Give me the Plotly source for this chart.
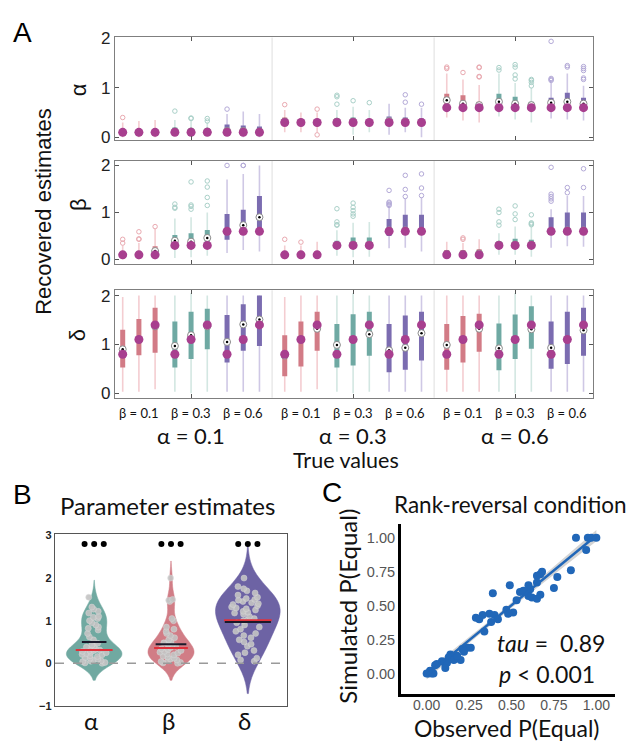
import plotly.graph_objects as go
import numpy as np

W, H = 633, 744
def px(x): return x / W
def py(y): return 1 - y / H

# ================= Panel A data =================
alpha_groups = ["α = 0.1", "α = 0.3", "α = 0.6"]
beta_labels = ["β = 0.1", "β = 0.3", "β = 0.6"]
true_alpha = [0.1, 0.3, 0.6]
true_beta = [0.1, 0.3, 0.6]
true_delta = [0.8, 1.1, 1.4]
row_labels = ["α", "β", "δ"]

# order: alpha group -> beta level -> delta level (27 conditions)
alpha_lo = [0.0, 0.0, 0.0, 0.02, 0.02, 0.02, 0.02, 0.0, 0.0,
            0.1, 0.1, 0.1, 0.2, 0.05, 0.1, 0.05, 0.1, 0.0,
            0.4, 0.34, 0.3, 0.42, 0.36, 0.3, 0.38, 0.36, 0.34]
alpha_q1 = [0.08, 0.08, 0.08, 0.1, 0.1, 0.1, 0.1, 0.1, 0.08,
            0.28, 0.28, 0.26, 0.28, 0.28, 0.28, 0.28, 0.28, 0.25,
            0.65, 0.62, 0.6, 0.65, 0.62, 0.6, 0.62, 0.65, 0.6]
alpha_med = [0.1, 0.1, 0.1, 0.12, 0.12, 0.12, 0.13, 0.13, 0.12,
             0.32, 0.3, 0.3, 0.32, 0.32, 0.3, 0.33, 0.32, 0.3,
             0.75, 0.68, 0.65, 0.72, 0.68, 0.65, 0.7, 0.72, 0.68]
alpha_q3 = [0.16, 0.14, 0.14, 0.2, 0.17, 0.16, 0.26, 0.24, 0.22,
            0.4, 0.36, 0.35, 0.38, 0.4, 0.35, 0.42, 0.4, 0.38,
            0.88, 0.85, 0.72, 0.88, 0.82, 0.72, 0.8, 0.9, 0.8]
alpha_hi = [0.3, 0.33, 0.35, 0.35, 0.33, 0.3, 0.47, 0.52, 0.47,
            0.55, 0.5, 0.5, 0.55, 0.62, 0.55, 0.68, 0.6, 0.6,
            1.29, 1.17, 1.06, 1.29, 1.1, 1.0, 1.1, 1.29, 1.04]
alpha_out = [[0.4], [], [], [0.53], [0.38, 0.39], [0.33, 0.38], [0.57], [], [],
             [0.66], [], [0.57, 0.05], [0.85, 0.82, 0.67], [0.74], [0.7], [], [0.86, 0.71], [0.67],
             [1.42, 1.39], [1.31], [1.42, 1.41, 1.23, 1.22], [1.41, 1.36], [1.47, 1.42, 1.26, 1.18],
             [1.17, 1.15, 1.11, 1.04], [1.94, 1.19, 1.17, 1.15], [1.45, 1.42], [1.43, 1.39, 1.35, 1.2, 1.17]]

beta_lo = [0.0, 0.0, 0.0, 0.03, 0.05, 0.08, 0.14, 0.2, 0.17,
           0.0, 0.0, 0.03, 0.08, 0.05, 0.06, 0.24, 0.25, 0.17,
           0.03, 0.03, 0.03, 0.1, 0.1, 0.06, 0.25, 0.28, 0.27]
beta_q1 = [0.08, 0.08, 0.1, 0.33, 0.3, 0.33, 0.42, 0.54, 0.59,
           0.08, 0.08, 0.08, 0.28, 0.28, 0.28, 0.5, 0.55, 0.52,
           0.1, 0.1, 0.1, 0.28, 0.28, 0.28, 0.52, 0.58, 0.55]
beta_med = [0.1, 0.1, 0.18, 0.4, 0.38, 0.46, 0.6, 0.73, 0.9,
            0.1, 0.1, 0.1, 0.3, 0.32, 0.32, 0.62, 0.62, 0.6,
            0.12, 0.12, 0.13, 0.32, 0.32, 0.32, 0.6, 0.62, 0.62]
beta_q3 = [0.17, 0.17, 0.28, 0.52, 0.56, 0.63, 0.97, 1.06, 1.35,
           0.15, 0.15, 0.18, 0.4, 0.47, 0.47, 0.86, 0.95, 0.95,
           0.2, 0.2, 0.22, 0.38, 0.44, 0.42, 0.9, 1.0, 1.0]
beta_hi = [0.3, 0.35, 0.65, 0.87, 0.9, 1.0, 1.7, 1.82, 2.0,
           0.3, 0.3, 0.38, 0.62, 0.78, 0.8, 1.14, 1.29, 1.32,
           0.38, 0.35, 0.43, 0.56, 0.7, 0.7, 1.07, 1.35, 1.35]
beta_out = [[0.43, 0.35], [0.59, 0.44, 0.43], [0.7], [1.18, 1.11, 1.09], [1.65, 1.16, 1.13, 1.07],
            [1.67, 1.54, 1.32, 1.15], [2.0], [2.0, 2.0], [],
            [0.43], [0.37], [], [1.08, 0.8, 0.74, 0.73], [1.2, 1.11, 1.04, 0.97, 0.92], [],
            [1.47, 1.22, 1.2, 1.17, 1.15], [1.79, 1.49, 1.34], [1.82, 1.52, 1.36],
            [], [0.46, 0.43], [], [1.07, 1.0, 0.8, 0.73], [1.14, 0.97, 0.85], [0.95, 0.78, 0.76, 0.74],
            [1.96, 1.39, 1.34, 1.29, 1.24], [1.53, 1.42], [1.93, 1.53]]

delta_lo = [0.03, 0.03, 0.08, 0.03, 0.0, 0.03, 0.03, 0.03, 0.03,
            0.03, 0.03, 0.08, 0.03, 0.0, 0.03, 0.03, 0.03, 0.03,
            0.03, 0.03, 0.03, 0.03, 0.0, 0.03, 0.03, 0.03, 0.03]
delta_q1 = [0.53, 0.78, 0.83, 0.53, 0.7, 0.9, 0.63, 0.87, 0.97,
            0.35, 0.55, 0.87, 0.53, 0.57, 0.77, 0.43, 0.48, 0.67,
            0.48, 0.63, 0.85, 0.47, 0.7, 0.91, 0.5, 0.6, 0.77]
delta_med = [0.9, 1.1, 1.37, 0.97, 1.19, 1.37, 1.05, 1.41, 1.51,
             0.77, 1.1, 1.32, 0.99, 1.1, 1.21, 0.88, 0.93, 1.23,
             0.99, 1.1, 1.32, 0.92, 1.1, 1.31, 0.93, 1.1, 1.29]
delta_q3 = [1.3, 1.52, 1.75, 1.47, 1.67, 1.73, 1.6, 1.82, 2.0,
            1.19, 1.47, 1.67, 1.42, 1.62, 1.67, 1.42, 1.59, 1.67,
            1.42, 1.58, 1.63, 1.43, 1.61, 1.78, 1.47, 1.67, 1.75]
delta_hi = [1.97, 2.0, 2.0, 2.0, 2.05, 2.0, 2.0, 2.0, 2.0,
            1.97, 2.0, 2.0, 2.0, 2.05, 2.0, 2.0, 2.0, 2.0,
            2.0, 2.0, 2.0, 2.0, 2.05, 2.0, 2.0, 2.0, 2.0]
delta_out = [[] for _ in range(27)]

# ================= Panel B data =================
violin_names = ["α", "β", "δ"]
alpha_est = [0.0, 0.01, 0.02, 0.04, 0.05, 0.06, 0.08, 0.1, 0.12, 0.14, 0.16, 0.18, 0.2, 0.21,
             0.23, 0.25, 0.26, 0.28, 0.3, 0.3, 0.31, 0.33, 0.35, 0.38, 0.4, 0.43, 0.47, 0.55,
             0.62, 0.7, 0.78, 0.82, 0.85, 0.9, 0.95, 1.0, 1.05, 1.08, 1.1, 1.18, 1.22, 1.27,
             1.32, 1.55]
beta_est = [0.0, 0.01, 0.02, 0.04, 0.06, 0.08, 0.1, 0.12, 0.15, 0.17, 0.2, 0.22, 0.24, 0.26,
            0.28, 0.3, 0.32, 0.34, 0.35, 0.37, 0.4, 0.42, 0.45, 0.48, 0.5, 0.55, 0.6, 0.65,
            0.7, 0.75, 0.8, 0.85, 1.0, 1.05, 1.45, 1.48, 1.5, 2.0]
delta_est = [0.05, 0.08, 0.12, 0.2, 0.25, 0.3, 0.4, 0.45, 0.5, 0.55, 0.6, 0.65, 0.7, 0.75,
             0.8, 0.85, 0.9, 0.95, 1.0, 1.02, 1.05, 1.1, 1.15, 1.18, 1.2, 1.22, 1.25, 1.28,
             1.3, 1.32, 1.35, 1.38, 1.4, 1.42, 1.45, 1.48, 1.5, 1.52, 1.55, 1.6, 1.65, 1.7,
             1.75, 1.8, 2.0]
est_mean = [0.5, 0.45, 0.97]
est_median = [0.31, 0.36, 1.01]

# ================= Panel C data =================
obs_p = [0.88, 0.95, 0.97, 1.0, 0.94, 0.85, 0.77, 0.75, 0.68, 0.67, 0.65, 0.65, 0.6, 0.61,
         0.55, 0.57, 0.6, 0.62, 0.65, 0.67, 0.49, 0.53, 0.39, 0.47, 0.51, 0.48, 0.37, 0.4,
         0.42, 0.33, 0.29, 0.31, 0.34, 0.38, 0.26, 0.24, 0.21, 0.22, 0.2, 0.14, 0.13, 0.16,
         0.11, 0.09, 0.12, 0.06, 0.05, 0.02, 0.0, 0.01, 0.03, 0.04, 0.11, 0.18]
sim_p = [1.0, 1.0, 1.0, 1.0, 0.91, 0.76, 0.71, 0.63, 0.75, 0.73, 0.72, 0.67, 0.65, 0.62,
         0.6, 0.61, 0.57, 0.56, 0.55, 0.58, 0.65, 0.54, 0.59, 0.47, 0.45, 0.44, 0.44, 0.43,
         0.4, 0.43, 0.41, 0.4, 0.31, 0.38, 0.19, 0.19, 0.18, 0.16, 0.1, 0.14, 0.12, 0.1,
         0.07, 0.09, 0.08, 0.07, 0.06, 0.02, 0.0, 0.0, 0.0, 0.0, 0.04, 0.13]
tau_text = "<i>tau</i> =  0.89"
p_text = "<i>p</i> < 0.001"

# ================= Styling =================
box_col = ["#d27b86", "#6fa9a3", "#7b6cb0"]
whisk_col = ["#f4cdd1", "#d3e7e2", "#cfc8e5"]
out_col = ["#e9a9b0", "#a9d0c8", "#b3a9d7"]
dot_col = "#a83f8f"
ARIAL = "Liberation Sans"
CAL = "Lato"

fig = go.Figure()

D_STEP, B_STEP, G_STEP, X0 = 1.0, 3.22, 10.0, 0.475
def pos(g, b, d):
    return X0 + g * G_STEP + b * B_STEP + d * D_STEP

rows = [
    (alpha_lo, alpha_q1, alpha_med, alpha_q3, alpha_hi, alpha_out, lambda g, b, d: true_alpha[g]),
    (beta_lo, beta_q1, beta_med, beta_q3, beta_hi, beta_out, lambda g, b, d: true_beta[b]),
    (delta_lo, delta_q1, delta_med, delta_q3, delta_hi, delta_out, lambda g, b, d: true_delta[d]),
]

for r, (lo, q1, med, q3, hi, out, truef) in enumerate(rows):
    xa, ya = ("x" if r == 0 else f"x{r+1}"), ("y" if r == 0 else f"y{r+1}")
    dots_x, dots_y = [], []
    for b in range(3):
        wx, wy, bx, by, ox, oy, mx, my = [], [], [], [], [], [], [], []
        for g in range(3):
            for d in range(3):
                i = g * 9 + b * 3 + d
                x = pos(g, b, d)
                wx += [x, x, None]; wy += [lo[i], hi[i], None]
                bx += [x, x, None]; by += [q1[i], q3[i], None]
                mx.append(x); my.append(med[i])
                for o in out[i]:
                    ox.append(x); oy.append(o)
                dots_x.append(x); dots_y.append(truef(g, b, d))
        fig.add_trace(go.Scatter(x=wx, y=wy, xaxis=xa, yaxis=ya, mode="lines",
                                 line=dict(color=whisk_col[b], width=1.6), hoverinfo="skip"))
        fig.add_trace(go.Scatter(x=bx, y=by, xaxis=xa, yaxis=ya, mode="lines",
                                 line=dict(color=box_col[b], width=5), hoverinfo="skip"))
        if ox:
            fig.add_trace(go.Scatter(x=ox, y=oy, xaxis=xa, yaxis=ya, mode="markers",
                                     marker=dict(symbol="circle-open", size=4.5,
                                                 color=out_col[b], line=dict(width=1)),
                                     hoverinfo="skip"))
        fig.add_trace(go.Scatter(x=mx, y=my, xaxis=xa, yaxis=ya, mode="markers",
                                 marker=dict(symbol="circle", size=7, color="white",
                                             line=dict(color="#8a8a8a", width=1)), hoverinfo="skip"))
        fig.add_trace(go.Scatter(x=mx, y=my, xaxis=xa, yaxis=ya, mode="markers",
                                 marker=dict(symbol="circle", size=2.5, color="black"), hoverinfo="skip"))
    fig.add_trace(go.Scatter(x=dots_x, y=dots_y, xaxis=xa, yaxis=ya, mode="markers",
                             marker=dict(size=9, color=dot_col), hoverinfo="skip"))

row_geo = [(30, 135, [-0.06, 2.02]), (155.7, 261.7, [-0.104, 2.104]), (288, 397.7, [-0.09, 2.11])]
A_L, A_R = 115, 593
XRANGE = [0, 29.5]
tick_centers = [X0 + g * G_STEP + B_STEP + D_STEP for g in range(3)]
seps = [(pos(g, 2, 2) + pos(g + 1, 0, 0)) / 2 for g in range(2)]

layout = dict(width=W, height=H, margin=dict(l=0, r=0, t=0, b=0),
              paper_bgcolor="white", plot_bgcolor="white", showlegend=False)
shapes, annos = [], []

def note(text, x, y, size, family=CAL, angle=0, xanchor="center", color="#111"):
    annos.append(dict(text=text, x=px(x), y=py(y), xref="paper", yref="paper", showarrow=False,
                      xanchor=xanchor, yanchor="middle", textangle=angle,
                      font=dict(family=family, size=size, color=color)))

for r, (top, bot, yr) in enumerate(row_geo):
    sx = "" if r == 0 else str(r + 1)
    layout[f"xaxis{sx}"] = dict(domain=[px(A_L), px(A_R)], range=XRANGE, anchor=f"y{sx}",
                                showgrid=False, zeroline=False, showticklabels=False,
                                tickvals=tick_centers, ticks="inside", ticklen=4,
                                tickcolor="#555", showline=True, linecolor="#7f7f7f",
                                linewidth=1.2, mirror="ticks")
    layout[f"yaxis{sx}"] = dict(domain=[py(bot), py(top)], range=yr, anchor=f"x{sx}",
                                showgrid=False, zeroline=False, tickvals=[0, 1, 2],
                                ticks="inside", ticklen=4, tickcolor="#555",
                                tickfont=dict(family=ARIAL, size=17, color="#222"),
                                showline=True, linecolor="#7f7f7f", linewidth=1.2, mirror="ticks")
    for s in seps:
        shapes.append(dict(type="line", xref=f"x{sx}", yref=f"y{sx} domain", x0=s, x1=s,
                           y0=0, y1=1, line=dict(color="#e4e4e4", width=1.2), layer="below"))

# Panel A text
row_lab_pos = [(78, 84), (79, 201), (77, 334)]
for lab, (x, y) in zip(row_labels, row_lab_pos):
    note(lab, x, y, 22, family=ARIAL, angle=-90)
note("Recovered estimates", 44, 208, 22, family=ARIAL, angle=-90)
xpx = lambda v: A_L + (v - XRANGE[0]) / (XRANGE[1] - XRANGE[0]) * (A_R - A_L)
for g in range(3):
    for b in range(3):
        note(beta_labels[b], xpx(pos(g, b, 1)), 413, 13)
    note(alpha_groups[g], xpx(tick_centers[g]), 436, 22)
note("True values", 346, 461.5, 21.5)
for lab, (x, y) in zip(["A", "B", "C"], [(22, 25), (22, 496), (332, 494)]):
    note(lab, x, y, 28, family=ARIAL, color="black")

# ================= Panel B =================
v_fill = ["#70a9a1", "#d17d86", "#6d63a4"]
v_data = [alpha_est, beta_est, delta_est]
v_bw = [0.2, 0.2, 0.38]
v_width = [0.72, 0.6, 0.84]
for k in range(3):
    fig.add_trace(go.Violin(x=[k + 1] * len(v_data[k]), y=v_data[k], xaxis="x4", yaxis="y4",
                            fillcolor=v_fill[k], line=dict(color=v_fill[k], width=0.5),
                            opacity=1, bandwidth=v_bw[k], width=v_width[k], spanmode="soft",
                            points="all", pointpos=0, jitter=0.55,
                            marker=dict(color="#c4c4c4", size=6, opacity=0.9,
                                        line=dict(color="#dddddd", width=0.5)),
                            box_visible=False, meanline_visible=False, hoverinfo="skip",
                            scalemode="width"))
mean_hw = [0.16, 0.2, 0.3]
med_hw = [0.24, 0.22, 0.31]
for k in range(3):
    c = k + 1
    fig.add_trace(go.Scatter(x=[c - med_hw[k], c + med_hw[k]], y=[est_median[k]] * 2, xaxis="x4",
                             yaxis="y4", mode="lines", line=dict(color="#e0303a", width=2),
                             hoverinfo="skip"))
    fig.add_trace(go.Scatter(x=[c - mean_hw[k], c + mean_hw[k]], y=[est_mean[k]] * 2, xaxis="x4",
                             yaxis="y4", mode="lines", line=dict(color="#1a1a2a", width=2),
                             hoverinfo="skip"))
sx_, sy_ = [], []
for k in range(3):
    for o in (-0.125, 0, 0.125):
        sx_.append(k + 1 + o); sy_.append(2.8)
fig.add_trace(go.Scatter(x=sx_, y=sy_, xaxis="x4", yaxis="y4", mode="markers",
                         marker=dict(color="black", size=6), hoverinfo="skip"))
layout["xaxis4"] = dict(domain=[px(55), px(287)], range=[0.49, 3.51], anchor="y4",
                        showgrid=False, zeroline=False, showticklabels=False, ticks="",
                        showline=True, linecolor="#555", linewidth=1.3, mirror=True)
layout["yaxis4"] = dict(domain=[py(712.3), py(537)], range=[-1, 3.03], anchor="x4",
                        showgrid=False, zeroline=False, tickvals=[-1, 0, 1, 2, 3],
                        ticks="", tickfont=dict(family=ARIAL, size=11, color="#222", weight="bold"),
                        showline=True, linecolor="#555", linewidth=1.3, mirror=True)
shapes.append(dict(type="line", xref="x4 domain", yref="y4", x0=0, x1=1, y0=0, y1=0,
                   line=dict(color="#9a9a9a", width=1.5, dash="dash"), layer="above"))
b_cx = lambda v: 55 + (v - 0.49) / 3.02 * 232
for k in range(3):
    note(violin_names[k], b_cx(k + 1) - 3, 727, 24)
note("Parameter estimates", 167, 508, 24)

# ================= Panel C =================
ox_ = np.array(obs_p); oy_ = np.array(sim_p)
slope, icpt = np.polyfit(ox_, oy_, 1)
xs = np.linspace(ox_.min(), ox_.max(), 60)
fit = slope * xs + icpt
resid = oy_ - (slope * ox_ + icpt)
s = np.sqrt(np.sum(resid ** 2) / (len(ox_) - 2))
se = s * np.sqrt(1 / len(ox_) + (xs - ox_.mean()) ** 2 / np.sum((ox_ - ox_.mean()) ** 2))
fig.add_trace(go.Scatter(x=np.concatenate([xs, xs[::-1]]),
                         y=np.concatenate([fit + 2 * se, (fit - 2 * se)[::-1]]),
                         xaxis="x5", yaxis="y5", fill="toself", fillcolor="rgba(160,160,160,0.45)",
                         line=dict(width=0), mode="lines", hoverinfo="skip"))
fig.add_trace(go.Scatter(x=ox_, y=oy_, xaxis="x5", yaxis="y5", mode="markers",
                         marker=dict(color="#2167b8", size=8), hoverinfo="skip"))
fig.add_trace(go.Scatter(x=xs, y=fit, xaxis="x5", yaxis="y5", mode="lines",
                         line=dict(color="#2167b8", width=2.5), hoverinfo="skip"))
tickv = [0, 0.25, 0.5, 0.75, 1.0]
tickt = ["0.00", "0.25", "0.50", "0.75", "1.00"]
layout["xaxis5"] = dict(domain=[px(400.7), px(615)], range=[-0.153, 1.11], anchor="y5",
                        showgrid=False, zeroline=False, tickvals=tickv, ticktext=tickt,
                        ticks="", ticklabelstandoff=-3,
                        tickfont=dict(family=ARIAL, size=14, color="#555"),
                        showline=True, linecolor="black", linewidth=2.5)
layout["yaxis5"] = dict(domain=[py(700), py(526.7)], range=[-0.15, 1.1], anchor="x5",
                        showgrid=False, zeroline=False, tickvals=tickv, ticktext=tickt,
                        ticks="",
                        tickfont=dict(family=ARIAL, size=14.5, color="#555"),
                        showline=True, linecolor="black", linewidth=2.5)
note("Rank-reversal condition", 510, 507, 22.5)
note("Simulated P(Equal)", 348, 611, 24, angle=-90)
note("Observed P(Equal)", 506, 735, 23)
note(tau_text, 495, 648, 23, xanchor="left")
note(p_text, 497, 680, 23, xanchor="left")

layout["shapes"] = shapes
layout["annotations"] = annos
fig.update_layout(**layout)
fig.write_html("out.html", config={"displayModeBar": False},
               post_script="document.body.style.margin='0';document.body.style.padding='0';")
